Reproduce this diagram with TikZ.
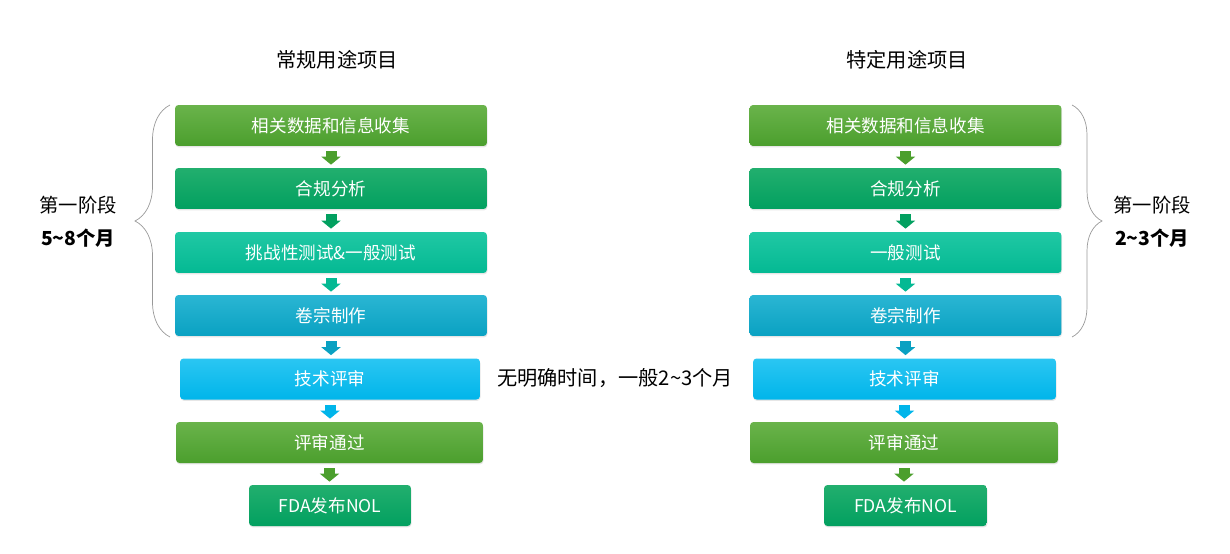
\documentclass[tikz,border=0pt]{standalone}
\usepackage{fontspec}
\setmainfont{Noto Sans CJK SC}
\usetikzlibrary{positioning,arrows.meta,decorations.pathreplacing,shadows}

\definecolor{limetop}{HTML}{6AB34B}
\definecolor{limebot}{HTML}{4B9F2D}
\definecolor{greentop}{HTML}{22AF6E}
\definecolor{greenbot}{HTML}{02A060}
\definecolor{tealtop}{HTML}{20C8A4}
\definecolor{tealbot}{HTML}{04B993}
\definecolor{bluetop}{HTML}{2AB6D3}
\definecolor{bluebot}{HTML}{0AA1C2}
\definecolor{skytop}{HTML}{2BC6F2}
\definecolor{skybot}{HTML}{00B5EA}

\tikzset{
  stage/.style={rounded corners=2pt, minimum width=6.24cm, minimum height=0.82cm,
    inner sep=0pt, text=white, font=\fontsize{10}{12}\selectfont,
    drop shadow={opacity=0.2, shadow xshift=0.3pt, shadow yshift=-0.8pt}},
  lime/.style={stage, top color=limetop, bottom color=limebot},
  green/.style={stage, top color=greentop, bottom color=greenbot},
  teal/.style={stage, top color=tealtop, bottom color=tealbot},
  blue/.style={stage, top color=bluetop, bottom color=bluebot},
  sky/.style={stage, top color=skytop, bottom color=skybot},
  flow/.style={line width=0.22cm, -{Triangle[width=0.38cm,length=0.16cm]},
    shorten <=0.1cm, shorten >=0.06cm},
  curly/.style={decorate, decoration={brace, amplitude=#1}, gray!80, thin},
  label/.style={font=\fontsize{11}{13}\selectfont}
}

\begin{document}
\begin{tikzpicture}[x=0.02cm,y=-0.02cm]
\useasboundingbox (0,0) rectangle (1230,554);

% Titles
\node[label,font=\fontsize{11.5}{14}\selectfont] (tl) at (337,60) {常规用途项目};
\node[label,font=\fontsize{11.5}{14}\selectfont] (tr) at (907,60) {特定用途项目};

% Left column
\node[lime]  (l1) at (331,125.5) {相关数据和信息收集};
\node[green] (l2) at (331,188.5) {合规分析};
\node[teal]  (l3) at (331,252.5) {挑战性测试\&一般测试};
\node[blue]  (l4) at (331,315.5) {卷宗制作};
\node[sky,minimum width=6cm]    (l5) at (330,379) {技术评审};
\node[lime,minimum width=6.14cm] (l6) at (329.5,442.5) {评审通过};
\node[green,minimum width=3.24cm] (l7) at (330,505.5) {FDA发布NOL};

% Right column
\node[lime]  (r1) at (905.5,125.5) {相关数据和信息收集};
\node[green] (r2) at (905.5,188.5) {合规分析};
\node[teal]  (r3) at (905.5,252.5) {一般测试};
\node[blue]  (r4) at (905.5,315.5) {卷宗制作};
\node[sky,minimum width=6.06cm]   (r5) at (904.5,379) {技术评审};
\node[lime,minimum width=6.16cm]  (r6) at (904,442.5) {评审通过};
\node[green,minimum width=3.26cm] (r7) at (905.5,505.5) {FDA发布NOL};

% Arrows
\foreach \c in {l,r}{
  \draw[flow,limebot]  (\c1.south) -- (\c1.south |- \c2.north);
  \draw[flow,greenbot] (\c2.south) -- (\c2.south |- \c3.north);
  \draw[flow,tealbot]  (\c3.south) -- (\c3.south |- \c4.north);
  \draw[flow,bluebot]  (\c4.south) -- (\c4.south |- \c5.north);
  \draw[flow,skybot]   (\c5.south) -- (\c5.south |- \c6.north);
  \draw[flow,limebot]  (\c6.south) -- (\c6.south |- \c7.north);
}

% Braces
\coordinate (lb) at (170,337);
\coordinate (lt) at (170,105);
\draw[curly=0.7cm] (lb) -- (lt);
\coordinate (rt) at (1072,105);
\coordinate (rb) at (1072,337);
\draw[curly=0.6cm] (rt) -- (rb);

% Side texts
\node[label] (ls) at (78,205) {第一阶段};
\node[label,font=\fontsize{11}{13}\selectfont\bfseries] (lm) at (78,238) {5\textasciitilde8个月};
\node[label] (rs) at (1152,205) {第一阶段};
\node[label,font=\fontsize{11}{13}\selectfont\bfseries] (rm) at (1152,238) {2\textasciitilde3个月};
\node[label,font=\fontsize{11.5}{14}\selectfont] (mid) at (615,378) {无明确时间，一般2\textasciitilde3个月};

\end{tikzpicture}
\end{document}
